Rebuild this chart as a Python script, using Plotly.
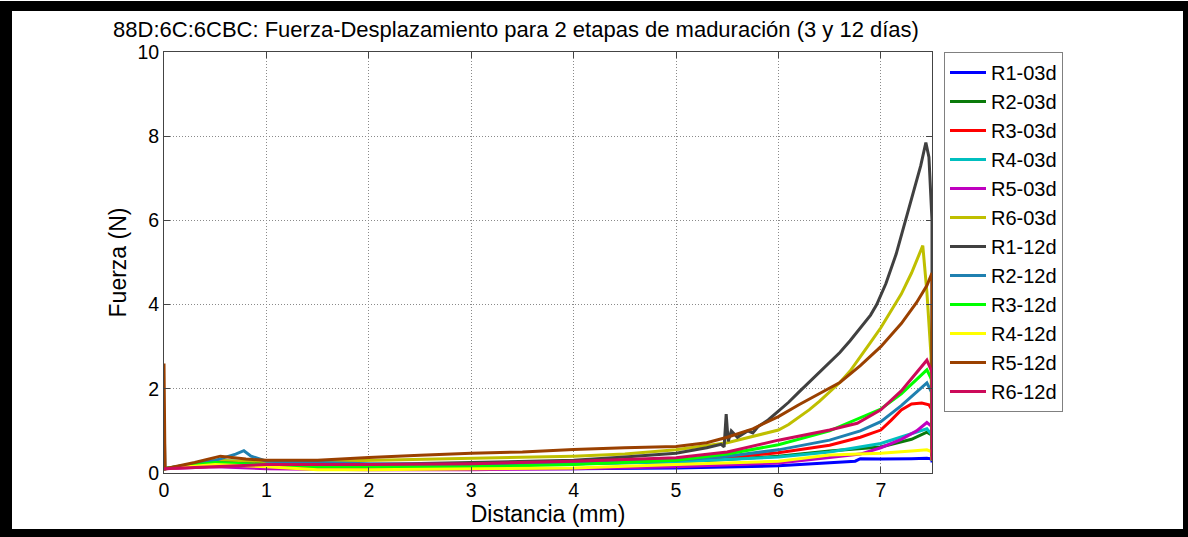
import plotly.graph_objects as go

# ---------------- data ----------------
names = ["R1-03d", "R2-03d", "R3-03d", "R4-03d", "R5-03d", "R6-03d",
         "R1-12d", "R2-12d", "R3-12d", "R4-12d", "R5-12d", "R6-12d"]

colors = ["#0000FF", "#0A7A0A", "#FF0000", "#00BFBF", "#BF00BF", "#BFBF00",
          "#404040", "#1F80B0", "#00FF00", "#FFFF00", "#9A4000", "#CC0A5A"]

r1_03_x = [0, 0.5, 1, 2, 3, 4, 5, 6, 6.5, 6.75, 6.8, 7.0, 7.3, 7.45, 7.5, 7.5]
r1_03_y = [0.1, 0.2, 0.15, 0.12, 0.1, 0.1, 0.12, 0.17, 0.25, 0.28, 0.34, 0.33, 0.34, 0.35, 0.33, 0.25]

r2_03_x = [0, 0.5, 1, 2, 3, 4, 5, 5.5, 6, 6.5, 7, 7.3, 7.45, 7.5, 7.5]
r2_03_y = [0.1, 0.25, 0.2, 0.2, 0.2, 0.22, 0.27, 0.32, 0.4, 0.52, 0.62, 0.8, 0.97, 0.9, 0.3]

r3_03_x = [0, 0.5, 1, 2, 3, 4, 5, 5.5, 6, 6.5, 6.8, 7.0, 7.1, 7.2, 7.3, 7.4, 7.47, 7.5, 7.5]
r3_03_y = [0.1, 0.2, 0.15, 0.15, 0.18, 0.22, 0.3, 0.37, 0.48, 0.66, 0.85, 1.02, 1.25, 1.5, 1.64, 1.66, 1.62, 1.5, 0.3]

r4_03_x = [0, 0.5, 1, 2, 3, 4, 5, 6, 6.5, 7, 7.45, 7.5, 7.5]
r4_03_y = [0.1, 0.3, 0.25, 0.2, 0.2, 0.22, 0.27, 0.38, 0.5, 0.7, 1.05, 0.9, 0.3]

r5_03_x = [0, 0.5, 1, 2, 3, 4, 5, 6, 6.5, 6.8, 7.0, 7.2, 7.35, 7.45, 7.5, 7.5]
r5_03_y = [0.1, 0.15, 0.1, 0.08, 0.08, 0.1, 0.15, 0.24, 0.37, 0.45, 0.6, 0.8, 1.0, 1.2, 1.1, 0.3]

r6_03_x = [0, 0.5, 1, 2, 3, 4, 4.5, 5, 5.5, 6, 6.1, 6.2, 6.3, 6.4, 6.5, 6.6, 6.7, 6.8, 6.9,
           7.0, 7.1, 7.2, 7.3, 7.41, 7.45, 7.49, 7.5]
r6_03_y = [0.1, 0.3, 0.25, 0.3, 0.35, 0.4, 0.45, 0.55, 0.72, 1.02, 1.15, 1.32, 1.5, 1.7, 1.92, 2.15, 2.42, 2.75, 3.1,
           3.45, 3.85, 4.25, 4.75, 5.4, 4.3, 2.8, 0.5]

r1_12_x = [0, 0.01, 0.5, 1, 2, 3, 4, 4.5, 5, 5.3, 5.44, 5.47, 5.49, 5.51, 5.54, 5.6, 5.7, 5.75, 5.8,
           5.9, 6.0, 6.1, 6.2, 6.3, 6.4, 6.5, 6.6, 6.7, 6.8, 6.9, 6.96, 7.05, 7.15, 7.24, 7.32, 7.39, 7.44,
           7.47, 7.5, 7.5]
r1_12_y = [1.3, 0.1, 0.25, 0.2, 0.2, 0.25, 0.3, 0.38, 0.47, 0.6, 0.68, 0.62, 1.4, 0.75, 1.0, 0.85, 1.0, 0.95, 1.1,
           1.26, 1.46, 1.68, 1.92, 2.15, 2.38, 2.62, 2.86, 3.14, 3.44, 3.75, 4.0, 4.5, 5.2, 6.0, 6.7, 7.3, 7.85,
           7.5, 6.0, 0.3]

r2_12_x = [0, 0.5, 0.7, 0.78, 0.85, 1, 2, 3, 4, 5, 5.5, 6, 6.5, 6.8, 7, 7.2, 7.45, 7.5, 7.5]
r2_12_y = [0.1, 0.3, 0.45, 0.53, 0.4, 0.28, 0.22, 0.2, 0.22, 0.3, 0.4, 0.55, 0.78, 1.0, 1.22, 1.6, 2.14, 1.9, 0.3]

r3_12_x = [0, 0.5, 1, 1.5, 2, 3, 4, 5, 5.5, 6, 6.5, 7, 7.2, 7.45, 7.5, 7.5]
r3_12_y = [0.1, 0.25, 0.2, 0.15, 0.15, 0.15, 0.2, 0.3, 0.45, 0.67, 1.0, 1.52, 1.88, 2.45, 2.2, 0.3]

r4_12_x = [0, 0.5, 1, 1.5, 2, 3, 4, 5, 6, 6.5, 7, 7.3, 7.45, 7.5, 7.5]
r4_12_y = [0.1, 0.2, 0.15, 0.08, 0.08, 0.1, 0.12, 0.2, 0.28, 0.43, 0.47, 0.52, 0.55, 0.5, 0.3]

r5_12_x = [0, 0.01, 0.3, 0.55, 0.8, 1, 1.5, 2, 2.5, 3, 3.5, 4, 4.5, 5, 5.3, 5.5, 5.75, 6, 6.2, 6.44, 6.6,
           6.8, 7.0, 7.2, 7.35, 7.45, 7.5, 7.5]
r5_12_y = [2.6, 0.1, 0.25, 0.4, 0.33, 0.3, 0.3, 0.37, 0.42, 0.47, 0.5, 0.56, 0.6, 0.63, 0.72, 0.85, 1.05, 1.34, 1.62, 1.95, 2.15,
           2.55, 3.0, 3.55, 4.05, 4.45, 4.75, 0.4]

r6_12_x = [0, 0.5, 1, 2, 3, 4, 5, 5.5, 6, 6.5, 6.77, 7, 7.2, 7.45, 7.5, 7.5]
r6_12_y = [0.1, 0.15, 0.2, 0.2, 0.22, 0.28, 0.36, 0.5, 0.78, 1.02, 1.18, 1.5, 1.95, 2.68, 2.4, 0.3]

xs = [r1_03_x, r2_03_x, r3_03_x, r4_03_x, r5_03_x, r6_03_x,
      r1_12_x, r2_12_x, r3_12_x, r4_12_x, r5_12_x, r6_12_x]
ys = [r1_03_y, r2_03_y, r3_03_y, r4_03_y, r5_03_y, r6_03_y,
      r1_12_y, r2_12_y, r3_12_y, r4_12_y, r5_12_y, r6_12_y]

title_text = "88D:6C:6CBC: Fuerza-Desplazamiento para 2 etapas de maduración (3 y 12 días)"
x_label = "Distancia (mm)"
y_label = "Fuerza (N)"

# ---------------- figure ----------------
W, H = 1188, 537
L, R, T, B = 164, 932, 52, 473  # plot area in pixels

FONT = "Arial, 'Liberation Sans', sans-serif"

fig = go.Figure()
for n, c, x, y in zip(names, colors, xs, ys):
    fig.add_trace(go.Scatter(x=x, y=y, mode="lines", name=n,
                             line=dict(color=c, width=3)))


def px2paper_x(px):
    return (px - L) / (R - L)


def px2paper_y(py):
    return (B - py) / (B - T)


# black outer frame
frame = [(0, 1, 1188, 11), (0, 1, 12, 537), (1183, 1, 1188, 537), (0, 529, 1188, 537)]
shapes = []
for x0, y0, x1, y1 in frame:
    shapes.append(dict(type="rect", xref="paper", yref="paper",
                       x0=px2paper_x(x0), x1=px2paper_x(x1),
                       y0=px2paper_y(y1), y1=px2paper_y(y0),
                       fillcolor="black", line=dict(width=0), layer="above"))

axis_common = dict(showline=True, linecolor="#444", linewidth=1, mirror="ticks",
                   ticks="inside", ticklen=6, tickcolor="#444",
                   showgrid=True, gridcolor="#8a8a8a", griddash="1px,2px", gridwidth=1,
                   zeroline=False, tickfont=dict(size=19.5, color="black", family=FONT),
                   title_font=dict(size=23, color="black", family=FONT))

fig.update_layout(
    width=W, height=H,
    margin=dict(l=L, r=W - R, t=T, b=H - B, pad=0),
    paper_bgcolor="white", plot_bgcolor="white",
    font=dict(family=FONT, color="black"),
    title=dict(text=title_text, xref="paper", x=px2paper_x(516), xanchor="center",
               yref="container", y=1 - 29.5 / H, yanchor="middle",
               font=dict(size=22, color="black", family=FONT)),
    xaxis=dict(range=[0, 7.5], dtick=1, tick0=0,
               title=dict(text=x_label, standoff=0), **axis_common),
    yaxis=dict(range=[0, 10], dtick=2, tick0=0,
               title=dict(text=y_label, standoff=4), **axis_common),
    legend=dict(x=px2paper_x(944), y=1, xanchor="left", yanchor="top",
                bordercolor="#808080", borderwidth=1, bgcolor="white",
                font=dict(size=20, color="black", family=FONT),
                tracegroupgap=0, itemwidth=36),
    shapes=shapes,
    showlegend=True,
)

fig.write_html("out.html", config={"displayModeBar": False},
               post_script="document.body.style.margin='0px';document.body.style.overflow='hidden';")
